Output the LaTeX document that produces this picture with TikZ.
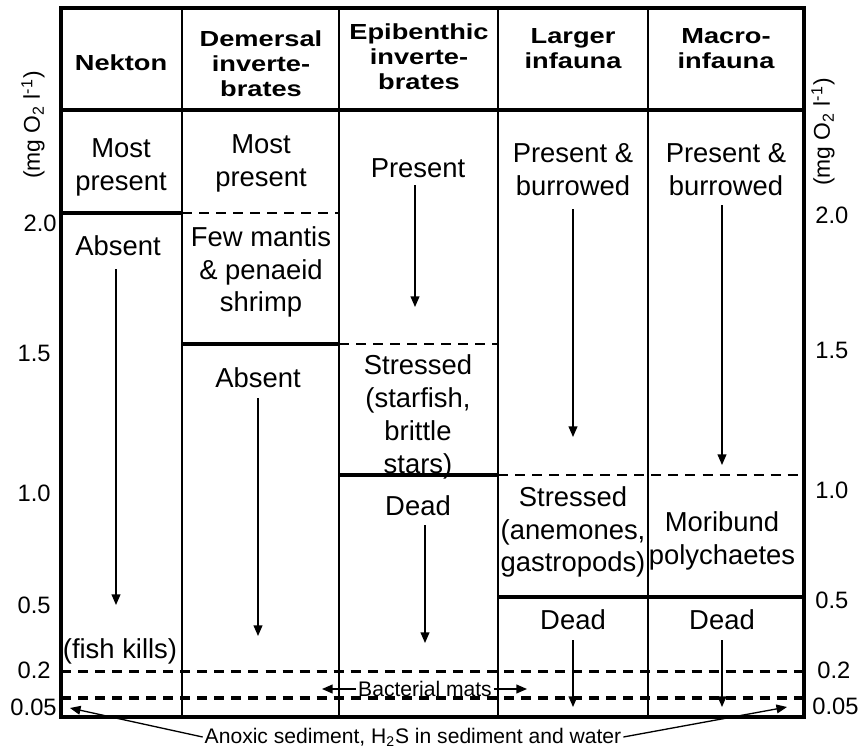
\documentclass[tikz,border=0pt]{standalone}
\usepackage{fontspec}
\setmainfont{Liberation Sans}
\newfontfamily\hdrfont{Liberation Sans}[FakeStretch=1.25]
\usepackage{tikz}
\usetikzlibrary{arrows.meta,positioning}

\begin{document}
\begin{tikzpicture}[x=0.02cm, y=-0.02cm,
  hdr/.style={align=center, inner sep=0pt, font=\hdrfont\bfseries\fontsize{12.4}{14.2}\selectfont},
  cell/.style={align=center, inner sep=0pt, font=\fontsize{15.6}{18.7}\selectfont},
  ticklab/.style={inner sep=0pt, font=\fontsize{13.5}{15}\selectfont},
  unitlab/.style={inner sep=0pt, rotate=90, font=\fontsize{13}{15}\selectfont},
  note/.style={inner sep=1pt, font=\fontsize{12}{14}\selectfont},
  thinrule/.style={line width=0.75pt},
  boundrule/.style={line width=2.5pt},
  dashrule/.style={line width=1.7pt, dash pattern=on 5.7pt off 4pt},
  heavydash/.style={line width=2.3pt, dash pattern=on 5.7pt off 4pt},
  ptr/.style={-{Triangle[length=6pt,width=5pt]}, line width=0.75pt}
]
\useasboundingbox (0,0) rectangle (865,750);

% table frame
\draw[line width=2.8pt] (61,8) rectangle (804,717);
\draw[boundrule] (61,110) -- (804,110);
\foreach \cx in {182,339,498,648}
  \draw[thinrule] (\cx,8) -- (\cx,717);

% oxygen thresholds
\draw[boundrule] (61,213) -- (182,213);
\draw[dashrule] (182,213) -- (339,213);
\draw[boundrule] (182,344) -- (339,344);
\draw[dashrule] (339,344) -- (498,344);
\draw[boundrule] (339,475) -- (498,475);
\draw[dashrule] (498,475) -- (804,475);
\draw[boundrule] (498,597) -- (804,597);
\draw[dashrule] (61,671) -- (804,671);
\draw[heavydash] (61,698) -- (804,698);

% headers
\node[hdr] (hNek) at (121,63) {Nekton};
\node[hdr] (hDem) at (261,64) {Demersal\\inverte-\\brates};
\node[hdr] (hEpi) at (419,57) {Epibenthic\\inverte-\\brates};
\node[hdr] (hLrg) at (573,49) {Larger\\infauna};
\node[hdr] (hMac) at (726,49) {Macro-\\infauna};

% axis labels
\node[unitlab] (uL) at (33,125) {(mg O\textsubscript{2} l\textsuperscript{-1})};
\node[unitlab] (uR) at (823,132) {(mg O\textsubscript{2} l\textsuperscript{-1})};
\node[ticklab, anchor=east] (l20) at (57,223) {2.0};
\node[ticklab, anchor=east] (l15) at (51,353) {1.5};
\node[ticklab, anchor=east] (l10) at (51,493) {1.0};
\node[ticklab, anchor=east] (l05) at (51,605) {0.5};
\node[ticklab, anchor=east] (l02) at (51,670) {0.2};
\node[ticklab, anchor=east] (l005) at (57,707) {0.05};
\node[ticklab, anchor=west] (r20) at (815,215) {2.0};
\node[ticklab, anchor=west] (r15) at (815,350) {1.5};
\node[ticklab, anchor=west] (r10) at (815,490) {1.0};
\node[ticklab, anchor=west] (r05) at (815,600) {0.5};
\node[ticklab, anchor=west] (r02) at (817,670) {0.2};
\node[ticklab, anchor=west] (r005) at (812,706) {0.05};

% Nekton
\node[cell] (nekMost) at (121,167) {Most\\present};
\node[cell] (nekAbs) at (118,246) {Absent};
\node[cell] (nekKill) at (120,651) {(fish kills)};
\coordinate (nekA) at (116,269);
\coordinate (nekB) at (116,605);
\draw[ptr] (nekA) -- (nekB);

% Demersal invertebrates
\node[cell] (demMost) at (261,163) {Most\\present};
\node[cell] (demFew) at (261,272) {Few mantis\\\& penaeid\\shrimp};
\node[cell] (demAbs) at (258,378) {Absent};
\coordinate (demA) at (258,398);
\coordinate (demB) at (258,636);
\draw[ptr] (demA) -- (demB);

% Epibenthic invertebrates
\node[cell] (epiPres) at (418,168) {Present};
\node[cell] (epiStr) at (418,417) {Stressed\\(starfish,\\brittle\\stars)};
\node[cell] (epiDead) at (418,506) {Dead};
\coordinate (epiA) at (415,185);
\coordinate (epiB) at (415,307);
\coordinate (epiC) at (425,525);
\coordinate (epiD) at (425,643);
\draw[ptr] (epiA) -- (epiB);
\draw[ptr] (epiC) -- (epiD);

% Larger infauna
\node[cell] (lrgPres) at (573,170) {Present \&\\burrowed};
\node[cell] (lrgStr) at (573,532) {Stressed\\(anemones,\\gastropods)};
\node[cell] (lrgDead) at (573,620) {Dead};
\coordinate (lrgA) at (573,209);
\coordinate (lrgB) at (573,437);
\coordinate (lrgC) at (573,640);
\coordinate (lrgD) at (573,707);
\draw[ptr] (lrgA) -- (lrgB);
\draw[ptr] (lrgC) -- (lrgD);

% Macro-infauna
\node[cell] (macPres) at (726,170) {Present \&\\burrowed};
\node[cell] (macMor) at (722,541) {Moribund\\polychaetes};
\node[cell] (macDead) at (722,620) {Dead};
\coordinate (macA) at (722,205);
\coordinate (macB) at (722,465);
\coordinate (macC) at (722,640);
\coordinate (macD) at (722,707);
\draw[ptr] (macA) -- (macB);
\draw[ptr] (macC) -- (macD);

% bottom notes
\node[note] (bact) at (425,689) {Bacterial mats};
\coordinate (bactL) at (322,689);
\coordinate (bactR) at (527,689);
\draw[ptr] (bact.west) -- (bactL);
\draw[ptr] (bact.east) -- (bactR);

\node[note] (anox) at (413,737) {Anoxic sediment, H\textsubscript{2}S in sediment and water};
\coordinate (anoxL) at (70,708);
\coordinate (anoxR) at (787,707);
\draw[ptr] (anox.west) -- (anoxL);
\draw[ptr] (anox.east) -- (anoxR);
\end{tikzpicture}
\end{document}
